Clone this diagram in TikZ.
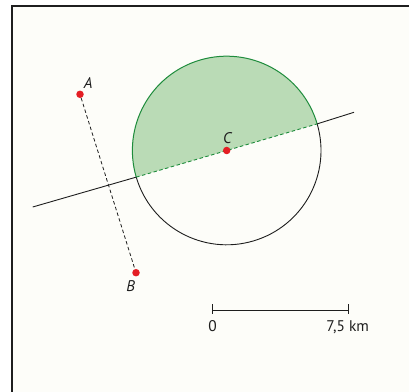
\documentclass[tikz,border=0pt]{standalone}
\usepackage{fontspec}
\usetikzlibrary{calc}
\setmainfont{PT Sans}
\definecolor{bgc}{RGB}{253,253,249}
\definecolor{dotred}{RGB}{228,30,36}
\definecolor{greenfill}{RGB}{186,219,182}
\definecolor{greenline}{RGB}{30,140,60}
\definecolor{inkc}{RGB}{30,30,30}
\tikzset{
  dotnode/.style={circle,fill=dotred,inner sep=0pt,minimum size=7.5bp},
  lbl/.style={inner sep=0pt,font=\fontsize{15.5}{18}\selectfont\itshape,text=inkc},
  numlbl/.style={inner sep=0pt,anchor=base,font=\fontsize{15.5}{18}\selectfont,text=inkc},
  thinline/.style={line width=0.9bp,draw=inkc},
  dashline/.style={line width=0.8bp,draw=inkc,dash pattern=on 3.5bp off 2.5bp}
}
\begin{document}
\begin{tikzpicture}[x=1bp,y=1bp]
\useasboundingbox (0,0) rectangle (409,392);
\fill[white] (0,0) rectangle (409,392);
\fill[bgc] (12,0) rectangle (409,385);
\draw[line width=2bp,draw=inkc] (12,0) -- (12,385.5) -- (409,385.5);
% circle geometry
\coordinate (Cc) at (226.7,241.5);
\coordinate (R) at ($(Cc)+(16.4:94.3)$);
\coordinate (L) at ($(Cc)+(196.4:94.3)$);
% green half
\fill[greenfill] (R) arc[start angle=16.4,end angle=196.4,radius=94.3] -- cycle;
\draw[line width=1bp,greenline] (R) arc[start angle=16.4,end angle=196.4,radius=94.3];
\draw[thinline] (L) arc[start angle=196.4,end angle=376.4,radius=94.3];
% line
\coordinate (P1) at (32.7,185);
\coordinate (P2) at (354,279.7);
\draw[thinline] (P1) -- (L);
\draw[thinline] (R) -- (P2);
\draw[line width=0.9bp,greenline,dash pattern=on 3.5bp off 2.5bp] (L) -- (R);
% A B segment
\node[dotnode] (A) at (80,297.7) {};
\node[dotnode] (B) at (136,119.3) {};
\draw[dashline] (A) -- (B);
\node[dotnode] (C) at (226.7,241.5) {};
\node[lbl] (la) at (88.3,309.2) {A};
\node[lbl] (lb) at (130.7,106) {B};
\node[lbl] (lc) at (227.3,254) {C};
% scale bar
\coordinate (S0) at (212.7,81.5);
\coordinate (S1) at (348.3,81.5);
\draw[thinline] (S0) -- (S1);
\draw[thinline] (212.7,78) -- (212.7,87.5);
\draw[thinline] (348.3,78) -- (348.3,87.5);
\node[numlbl] (l0) at (212.7,60.3) {0};
\node[numlbl] (l75) at (347.7,60.3) {7,5 km};
\end{tikzpicture}
\end{document}
